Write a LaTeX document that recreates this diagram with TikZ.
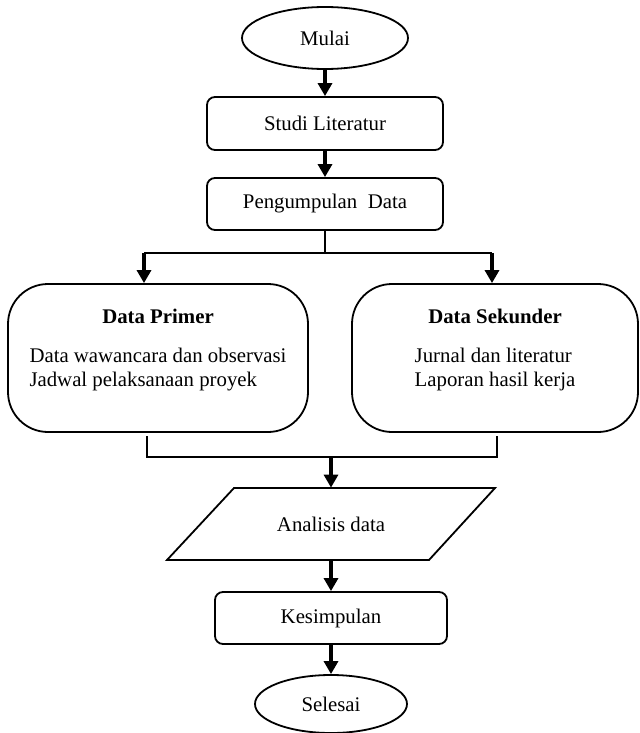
\documentclass[tikz,border=0pt]{standalone}
\usepackage{fontspec}
\setmainfont{Liberation Serif}
\usetikzlibrary{shapes.geometric,arrows.meta}
\begin{document}
\begin{tikzpicture}[x=0.5pt,y=-0.5pt,
    font=\fontsize{10.4}{12}\selectfont,
    line/.style={line width=0.9pt},
    arr/.style={line width=1.6pt,-{Triangle[width=7pt,length=6.5pt]}},
    terminal/.style={draw,line width=0.9pt,ellipse,inner sep=0pt},
    proc/.style={draw,line width=0.9pt,rounded corners=4pt,inner sep=0pt},
    databox/.style={draw,line width=0.9pt,rounded corners=20pt,inner sep=0pt,align=center}]
    \useasboundingbox (0,0) rectangle (640,733);
    \node[terminal,minimum width=83pt,minimum height=31pt] (mulai) at (325,38) {Mulai};
    \node[proc,minimum width=118pt,minimum height=26.5pt] (studi) at (325,123.5) {Studi Literatur};
    \node[proc,minimum width=118pt,minimum height=26pt] (kumpul) at (325,204) {Pengumpulan~ Data};
    \node[databox,minimum width=150pt,minimum height=74pt] (primer) at (158,358)
        {\textbf{Data Primer}\\[10pt]\begin{tabular}{@{}l@{}}Data wawancara dan observasi\\Jadwal pelaksanaan proyek\end{tabular}\\[4pt]};
    \node[databox,minimum width=143pt,minimum height=74pt] (sekunder) at (495,358)
        {\textbf{Data Sekunder}\\[10pt]\begin{tabular}{@{}l@{}}Jurnal dan literatur\\Laporan hasil kerja\end{tabular}\\[4pt]};
    \draw[line] (234,488) -- (495,488) -- (429,560) -- (167,560) -- cycle;
    \node[inner sep=0pt,minimum height=36pt] (analisis) at (331,524) {Analisis data};
    \node[proc,minimum width=116pt,minimum height=26pt] (simpul) at (331,618) {Kesimpulan};
    \node[terminal,minimum width=76pt,minimum height=29pt] (selesai) at (331,704) {Selesai};
    \coordinate (splitL) at (144,253);
    \coordinate (splitR) at (492,253);
    \coordinate (joinL) at (147,457);
    \coordinate (joinR) at (497,457);
    \coordinate (merge) at (331,457);
    \draw[arr] (mulai) -- (studi);
    \draw[arr] (studi) -- (kumpul);
    \draw[line] (kumpul.south) -- (kumpul.south |- splitL);
    \draw[line] (splitL) -- (splitR);
    \draw[arr] (splitL) -- (splitL |- primer.north);
    \draw[arr] (splitR) -- (splitR |- sekunder.north);
    \draw[line] (147,436) -- (joinL) -- (joinR) -- (497,436);
    \draw[arr] (merge) -- (analisis.north);
    \draw[arr] (analisis.south) -- (simpul);
    \draw[arr] (simpul) -- (selesai);
\end{tikzpicture}
\end{document}
